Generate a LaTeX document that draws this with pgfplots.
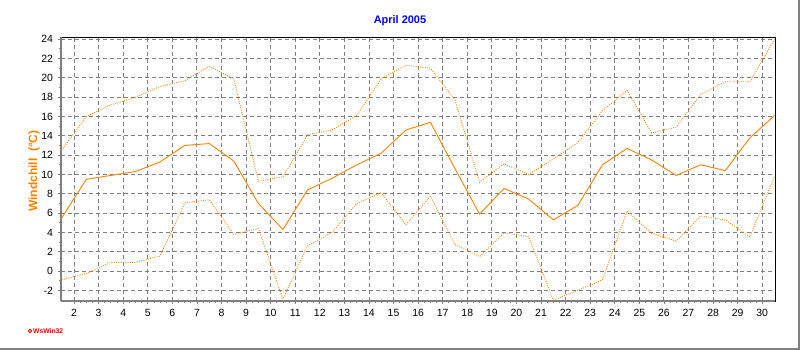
\documentclass[border=0pt]{standalone}
\usepackage{fontspec}
\setmainfont{Liberation Sans}
\usepackage{pgfplots}
\pgfplotsset{compat=1.18}
\definecolor{lineor}{HTML}{FF8000}
\definecolor{gridgray}{HTML}{808080}
\definecolor{titleblue}{HTML}{0000FF}
\begin{document}
\begin{tikzpicture}
\useasboundingbox (0bp,0bp) rectangle (800bp,350bp);
\fill[white] (0bp,0bp) rectangle (800bp,350bp);
\draw[gridgray, line width=2bp] (798.7bp,0bp) -- (798.7bp,350bp);
\draw[gridgray, line width=1.7bp] (0bp,0.85bp) -- (800bp,0.85bp);
\begin{axis}[
  at={(61bp,49bp)}, anchor=south west, scale only axis,
  width=714bp, height=263.5bp,
  xmin=1.47, xmax=30.52, ymin=-3.1, ymax=24.18,
  xtick={2,...,30}, ytick={-2,0,...,24},
  minor x tick num=3, minor y tick num=1,
  tick pos=left, tick align=outside,
  major tick length=3bp, minor tick length=2bp,
  tick style={gridgray, line width=0.8bp},
  grid=major,
  major grid style={gridgray, line width=0.9bp, dash pattern=on 4bp off 3bp},
  axis line style={black, line width=0.9bp},
  ticklabel style={font=\fontsize{10.5}{12}\selectfont},
  /pgf/number format/assume math mode=true,
  xticklabel style={yshift=-1.5bp},
  yticklabel style={xshift=-1.5bp},
  clip=false,
]
\draw[gridgray, line width=2.5bp] (rel axis cs:0,0) -- (rel axis cs:0,1);
\draw[gridgray, line width=2.5bp] (rel axis cs:0,0) -- (rel axis cs:1,0);
% max
\addplot[lineor, line width=0.9bp, dash pattern=on 0.9bp off 1.4bp] coordinates {
(1.5,12.5) (2.5,16.0) (3.5,17.2) (4.5,18.0) (5.5,19.1) (6.5,19.7) (7.5,21.2) (8.5,19.9)
(9.5,9.3) (10.5,9.75) (11.5,14.1) (12.5,14.6) (13.5,16.1) (14.5,19.9) (15.5,21.3) (16.5,21.0)
(17.5,17.7) (18.5,9.2) (19.5,11.1) (20.5,10.0) (21.5,11.6) (22.5,13.3) (23.5,16.6) (24.5,18.7)
(25.5,14.3) (26.5,14.9) (27.5,18.3) (28.5,19.6) (29.5,19.6) (30.5,24.0)};
% mean
\addplot[lineor, line width=0.9bp] coordinates {
(1.5,5.5) (2.5,9.5) (3.5,9.9) (4.5,10.3) (5.5,11.3) (6.5,13.0) (7.5,13.2) (8.5,11.4)
(9.5,7.0) (10.5,4.3) (11.5,8.4) (12.5,9.6) (13.5,11.0) (14.5,12.2) (15.5,14.6) (16.5,15.4)
(17.5,10.6) (18.5,5.9) (19.5,8.55) (20.5,7.45) (21.5,5.3) (22.5,6.8) (23.5,11.0) (24.5,12.7)
(25.5,11.5) (26.5,9.9) (27.5,11.0) (28.5,10.4) (29.5,13.8) (30.5,16.1)};
% min
\addplot[lineor, line width=0.9bp, dash pattern=on 0.9bp off 1.4bp] coordinates {
(1.5,-0.9) (2.5,-0.25) (3.5,0.9) (4.5,0.9) (5.5,1.55) (6.5,7.05) (7.5,7.4) (8.5,3.8)
(9.5,4.4) (10.5,-2.9) (11.5,2.6) (12.5,4.0) (13.5,7.0) (14.5,8.1) (15.5,4.8) (16.5,7.75)
(17.5,2.75) (18.5,1.5) (19.5,3.95) (20.5,3.55) (21.5,-3.0) (22.5,-2.0) (23.5,-0.9) (24.5,6.2)
(25.5,3.9) (26.5,3.1) (27.5,5.7) (28.5,5.3) (29.5,3.55) (30.5,9.8)};
\end{axis}
\node[titleblue, font=\fontsize{11}{13}\selectfont\bfseries] at (400bp,329bp) {April 2005};
\node[lineor, rotate=90, font=\fontsize{12}{14}\selectfont\bfseries] at (34bp,179bp) {Windchill\ \ (°C)};
\draw[red, line width=0.8bp] (30bp,19bp) circle (1.8bp);
\node[red, anchor=west, inner sep=0pt, font=\fontsize{6.8}{8}\selectfont\bfseries] at (33bp,19bp) {WsWin32};
\end{tikzpicture}
\end{document}
